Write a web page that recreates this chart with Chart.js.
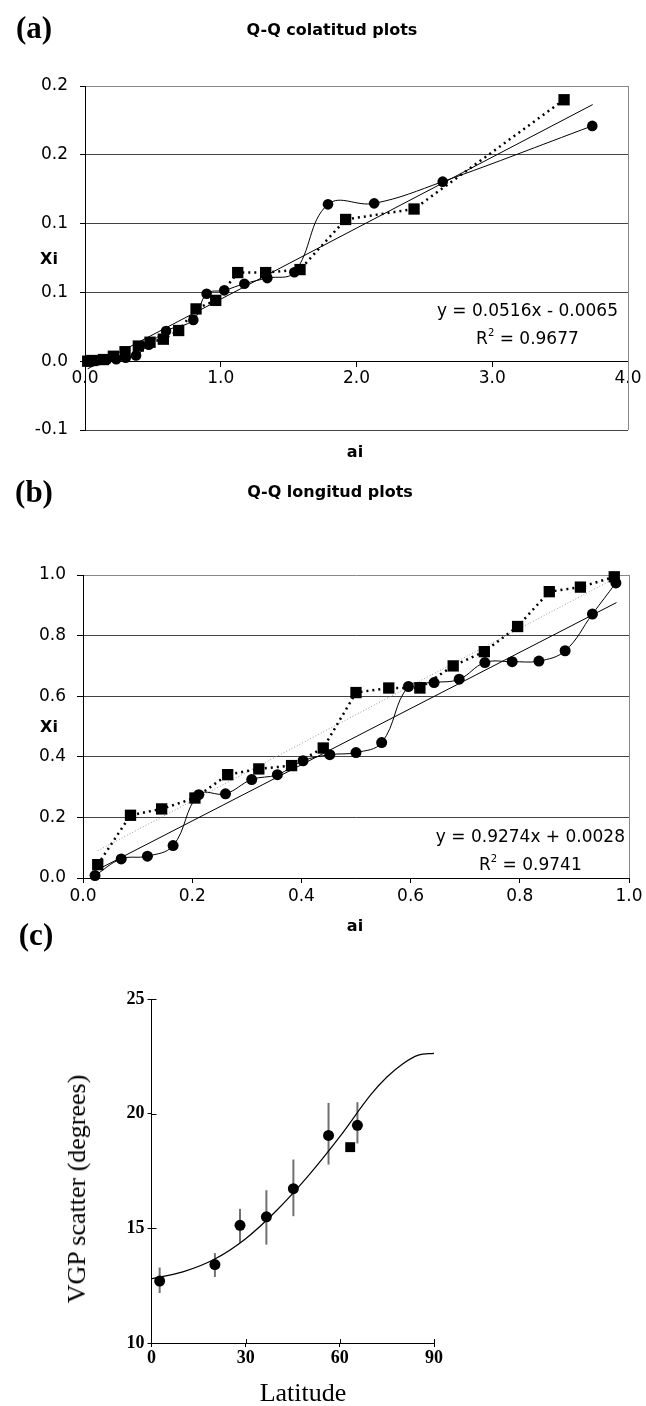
<!DOCTYPE html>
<html><head><meta charset="utf-8">
<script src="https://cdn.jsdelivr.net/npm/chart.js@4.4.1/dist/chart.umd.min.js"></script>
<style>
html,body{margin:0;padding:0;background:#fff;}
#wrap{position:relative;width:646px;height:1406px;overflow:hidden;background:#fff;}
canvas{position:absolute;left:0;top:0;}
.t{position:absolute;white-space:nowrap;line-height:1;transform:translate(-50%,-50%);color:#000;}
.pl{font:bold 31px 'Liberation Serif',serif;}
.ti{font:bold 16px 'DejaVu Sans',sans-serif;}
.ax{font:bold 16px 'DejaVu Sans',sans-serif;}
.eq{position:absolute;white-space:nowrap;font:17px 'DejaVu Sans',sans-serif;text-align:center;line-height:28px;color:#000;}
.eq sup{font-size:10px;vertical-align:baseline;position:relative;top:-8px;}
.ser{font:26px 'Liberation Serif',serif;}
</style></head>
<body>
<div id="wrap">
<canvas id="ca" width="646" height="1406"></canvas>
<canvas id="cb" width="646" height="1406"></canvas>
<canvas id="cc" width="646" height="1406"></canvas>

<div class="t pl" style="left:34px;top:28px">(a)</div>
<div class="t ti" style="left:332px;top:29px">Q-Q colatitud plots</div>
<div class="t ax" style="left:49px;top:258px">Xi</div>
<div class="t ax" style="left:355px;top:451px">ai</div>
<div class="eq" style="right:28px;top:296px">y = 0.0516x - 0.0065<br>R<sup>2</sup> = 0.9677</div>

<div class="t pl" style="left:34px;top:492px">(b)</div>
<div class="t ti" style="left:330px;top:491px">Q-Q longitud plots</div>
<div class="t ax" style="left:49px;top:726px">Xi</div>
<div class="t ax" style="left:355px;top:925px">ai</div>
<div class="eq" style="right:21px;top:822px">y = 0.9274x + 0.0028<br>R<sup>2</sup> = 0.9741</div>

<div class="t pl" style="left:36px;top:935px">(c)</div>
<div class="t ser" style="left:77px;top:1189px;transform:translate(-50%,-50%) rotate(-90deg)">VGP scatter (degrees)</div>
<div class="t ser" style="left:303px;top:1393px">Latitude</div>
</div>

<script>
// ---------- Panel (a): Q-Q colatitud ----------
const aCircleAi = [0.02, 0.09, 0.16, 0.23, 0.30, 0.376, 0.47, 0.597, 0.798, 0.896, 1.026, 1.174, 1.343, 1.542, 1.79, 2.13, 2.635, 3.737];
const aCircleXi = [0.000, 0.0005, 0.001, 0.0015, 0.0025, 0.0041, 0.012, 0.022, 0.030, 0.049, 0.0515, 0.0563, 0.0604, 0.0646, 0.114, 0.1147, 0.1305, 0.171];
const aSquareAi = [0.02, 0.05, 0.135, 0.209, 0.295, 0.393, 0.479, 0.577, 0.69, 0.818, 0.963, 1.125, 1.331, 1.584, 1.92, 2.424, 3.529];
const aSquareXi = [0.000, 0.0005, 0.0012, 0.0036, 0.0069, 0.011, 0.0138, 0.016, 0.0223, 0.038, 0.0442, 0.0644, 0.0644, 0.0666, 0.103, 0.1106, 0.190];
const aTrendAi = [0.02, 3.74];
const aTrendXi = [-0.0055, 0.1865];
const aYTickLabels = ['-0.1', '0.0', '0.1', '0.1', '0.2', '0.2'];
const aXTickLabels = ['0.0', '1.0', '2.0', '3.0', '4.0'];

// ---------- Panel (b): Q-Q longitud ----------
const bCircleAi = [0.022, 0.07, 0.118, 0.165, 0.212, 0.261, 0.309, 0.356, 0.403, 0.452, 0.5, 0.547, 0.596, 0.643, 0.689, 0.736, 0.786, 0.835, 0.883, 0.933, 0.976];
const bCircleXi = [0.008, 0.063, 0.072, 0.107, 0.275, 0.278, 0.325, 0.341, 0.387, 0.407, 0.414, 0.447, 0.632, 0.645, 0.656, 0.711, 0.714, 0.716, 0.75, 0.871, 0.974];
const bSquareAi = [0.027, 0.087, 0.144, 0.205, 0.265, 0.322, 0.382, 0.44, 0.5, 0.56, 0.617, 0.678, 0.735, 0.796, 0.854, 0.911, 0.973];
const bSquareXi = [0.044, 0.207, 0.228, 0.264, 0.341, 0.36, 0.371, 0.429, 0.612, 0.627, 0.627, 0.70, 0.747, 0.83, 0.945, 0.96, 0.994];
const bTrendAi = [0.027, 0.977];
const bTrendXi = [0.0278, 0.9089];
const bGrayAi = [0.027, 0.975];
const bGrayXi = [0.09, 0.99];
const bYTickLabels = ['0.0', '0.2', '0.4', '0.6', '0.8', '1.0'];
const bXTickLabels = ['0.0', '0.2', '0.4', '0.6', '0.8', '1.0'];

// ---------- Panel (c): VGP scatter vs latitude ----------
const cLat = [2.6, 20.2, 28.2, 36.6, 45.2, 56.4, 65.6];
const cVgp = [12.70, 13.42, 15.13, 15.5, 16.73, 19.05, 19.49];
const cErrLow = [12.18, 12.88, 14.37, 14.29, 15.53, 17.78, 18.7];
const cErrHigh = [13.29, 13.92, 15.85, 16.66, 18.0, 20.47, 20.5];
const cSquareLat = [63.3];
const cSquareVgp = [18.54];
const cCurveLat = [0, 10, 20, 30, 40, 50, 60, 70, 75, 80, 85, 90];
const cCurveVgp = [12.8, 13.1, 13.65, 14.55, 15.8, 17.3, 19.0, 20.85, 21.6, 22.17, 22.55, 22.63];
const cYTickLabels = ['10', '15', '20', '25'];
const cXTickLabels = ['0', '30', '60', '90'];

const pts = (xs, ys) => xs.map((x, i) => ({x: x, y: ys[i]}));

Chart.defaults.font.family = "'DejaVu Sans', sans-serif";
Chart.defaults.color = '#000';

const frameRight = {
  id: 'frameRight',
  beforeDatasetsDraw(chart) {
    const {ctx, chartArea: a} = chart;
    ctx.save();
    ctx.strokeStyle = '#888';
    ctx.lineWidth = 1;
    const x = Math.round(a.right) + 0.5;
    ctx.beginPath(); ctx.moveTo(x, a.top); ctx.lineTo(x, a.bottom); ctx.stroke();
    ctx.restore();
  }
};

function commonOpts(pad) {
  return {
    responsive: false, animation: false, devicePixelRatio: 1,
    layout: {padding: pad},
    plugins: {legend: {display: false}, tooltip: {enabled: false}},
    elements: {line: {capBezierPoints: true}}
  };
}

// ---- Chart A ----
const optA = commonOpts({left: 0, right: 18, top: 86, bottom: 1406 - 430});
optA.scales = {
  x: {
    type: 'linear', min: 0, max: 4, position: {y: 0},
    afterFit: s => { s.height = 0; },
    ticks: {stepSize: 1, padding: 2, font: {size: 17}, callback: (v, i) => aXTickLabels[i]},
    grid: {drawOnChartArea: false, drawTicks: true, tickLength: 5, color: '#000'},
    border: {display: true, color: '#000', width: 1}
  },
  y: {
    type: 'linear', min: -0.05, max: 0.2,
    afterFit: s => { s.width = 85; },
    ticks: {stepSize: 0.05, padding: 12, font: {size: 17}, callback: (v, i) => aYTickLabels[i]},
    grid: {color: c => (c.tick && c.tick.value > 0.19) ? '#888' : '#444', tickColor: '#000', tickLength: 5},
    border: {display: true, color: '#000', width: 1}
  }
};
new Chart(document.getElementById('ca'), {
  type: 'scatter',
  data: {datasets: [
    {data: pts(aCircleAi, aCircleXi), showLine: true, borderColor: '#000', borderWidth: 1, tension: 0.4,
     pointStyle: 'circle', pointRadius: 5.3, backgroundColor: '#000', pointBorderWidth: 0, clip: false},
    {data: pts(aSquareAi, aSquareXi), showLine: true, borderColor: '#000', borderWidth: 2.5, borderDash: [2, 4], tension: 0,
     pointStyle: 'rect', pointRadius: 8, backgroundColor: '#000', pointBorderWidth: 0, clip: false},
    {data: pts(aTrendAi, aTrendXi), showLine: true, borderColor: '#000', borderWidth: 1, pointRadius: 0, clip: false}
  ]},
  options: optA,
  plugins: [frameRight]
});

// ---- Chart B ----
const optB = commonOpts({left: 0, right: 17, top: 575, bottom: 1406 - 878 - 32});
optB.scales = {
  x: {
    type: 'linear', min: 0, max: 1, position: 'bottom',
    afterFit: s => { s.height = 32; },
    ticks: {stepSize: 0.2, padding: 3, font: {size: 17}, callback: (v, i) => bXTickLabels[i]},
    grid: {drawOnChartArea: false, drawTicks: true, tickLength: 5, color: '#000'},
    border: {display: true, color: '#000', width: 1}
  },
  y: {
    type: 'linear', min: 0, max: 1,
    afterFit: s => { s.width = 83; },
    ticks: {stepSize: 0.2, padding: 11, font: {size: 17}, callback: (v, i) => bYTickLabels[i]},
    grid: {color: c => (c.tick && c.tick.value > 0.99) ? '#888' : '#444', tickColor: '#000', tickLength: 6},
    border: {display: true, color: '#000', width: 1}
  }
};
new Chart(document.getElementById('cb'), {
  type: 'scatter',
  data: {datasets: [
    {data: pts(bCircleAi, bCircleXi), showLine: true, borderColor: '#000', borderWidth: 1, tension: 0.4,
     pointStyle: 'circle', pointRadius: 5.5, backgroundColor: '#000', pointBorderWidth: 0, clip: false},
    {data: pts(bSquareAi, bSquareXi), showLine: true, borderColor: '#000', borderWidth: 2.5, borderDash: [2, 4], tension: 0,
     pointStyle: 'rect', pointRadius: 8, backgroundColor: '#000', pointBorderWidth: 0, clip: false},
    {data: pts(bTrendAi, bTrendXi), showLine: true, borderColor: '#000', borderWidth: 1, pointRadius: 0, clip: false},
    {data: pts(bGrayAi, bGrayXi), showLine: true, borderColor: '#999', borderWidth: 1, borderDash: [1, 2], pointRadius: 0, clip: false}
  ]},
  options: optB,
  plugins: [frameRight]
});

// ---- Chart C ----
const errBars = {
  id: 'errBars',
  beforeDatasetsDraw(chart) {
    const {ctx, scales: {x, y}} = chart;
    ctx.save();
    ctx.strokeStyle = '#707070';
    ctx.lineWidth = 2;
    cLat.forEach((lat, i) => {
      const px = x.getPixelForValue(lat);
      ctx.beginPath();
      ctx.moveTo(px, y.getPixelForValue(cErrHigh[i]));
      ctx.lineTo(px, y.getPixelForValue(cErrLow[i]));
      ctx.stroke();
    });
    ctx.restore();
  }
};
const innerTicks = {
  id: 'innerTicks',
  afterDraw(chart) {
    const {ctx, scales: {x, y}, chartArea: a} = chart;
    ctx.save();
    ctx.strokeStyle = '#000';
    ctx.lineWidth = 1;
    x.ticks.forEach((t, i) => {
      if (i === 0) return;
      const px = Math.round(x.getPixelForValue(t.value)) + 0.5;
      ctx.beginPath(); ctx.moveTo(px, a.bottom); ctx.lineTo(px, a.bottom - 4); ctx.stroke();
    });
    y.ticks.forEach((t, i) => {
      if (i === 0) return;
      const py = Math.round(y.getPixelForValue(t.value)) + 0.5;
      ctx.beginPath(); ctx.moveTo(a.left, py); ctx.lineTo(a.left + 5, py); ctx.stroke();
    });
    ctx.restore();
  }
};
const serifBold = {family: "'Liberation Serif', serif", size: 18, weight: 'bold'};
const optC = commonOpts({left: 0, right: 646 - 434, top: 999, bottom: 1406 - 1343 - 30});
optC.scales = {
  x: {
    type: 'linear', min: 0, max: 90, position: 'bottom',
    afterFit: s => { s.height = 30; },
    ticks: {stepSize: 30, padding: 1, font: serifBold, callback: (v, i) => cXTickLabels[i]},
    grid: {display: true, drawOnChartArea: false, drawTicks: true, tickLength: 4, color: '#000'},
    border: {display: true, color: '#000', width: 1}
  },
  y: {
    type: 'linear', min: 10, max: 25,
    afterFit: s => { s.width = 151.5; },
    ticks: {stepSize: 5, padding: 3, font: serifBold, callback: (v, i) => cYTickLabels[i]},
    grid: {display: true, drawOnChartArea: false, drawTicks: true, tickLength: 4, color: '#000'},
    border: {display: true, color: '#000', width: 1}
  }
};
new Chart(document.getElementById('cc'), {
  type: 'scatter',
  data: {datasets: [
    {data: pts(cLat, cVgp), showLine: false, pointStyle: 'circle', pointRadius: 5.5, backgroundColor: '#000', pointBorderWidth: 0, clip: false},
    {data: pts(cSquareLat, cSquareVgp), showLine: false, pointStyle: 'rect', pointRadius: 7, backgroundColor: '#000', pointBorderWidth: 0, clip: false},
    {data: pts(cCurveLat, cCurveVgp), showLine: true, borderColor: '#000', borderWidth: 1.2, cubicInterpolationMode: 'monotone', pointRadius: 0, clip: false}
  ]},
  options: optC,
  plugins: [errBars, innerTicks]
});
</script>
</body></html>
